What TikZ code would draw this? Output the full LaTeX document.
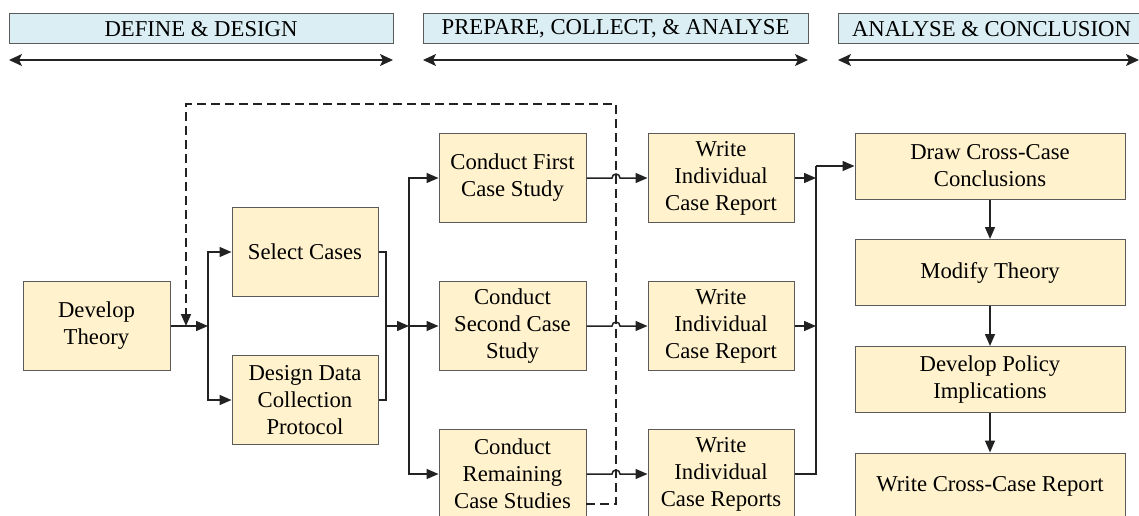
\documentclass[tikz,border=0pt]{standalone}
\usepackage{fontspec}
\setmainfont{Liberation Serif}
\newfontfamily\labelfont{Liberation Serif}[Ligatures=TeX]
\usetikzlibrary{arrows.meta}

\definecolor{boxfill}{HTML}{FFF2CC}
\definecolor{boxline}{HTML}{5A5A5A}
\definecolor{headfill}{HTML}{DAEEF3}
\definecolor{wire}{HTML}{222222}

\tikzset{
  stepbox/.style={draw=boxline, line width=1pt, fill=boxfill, align=center,
    inner sep=0pt, minimum width=147pt, minimum height=89pt,
    font=\labelfont\fontsize{22.7}{27}\selectfont},
  widebox/.style={stepbox, minimum width=270pt, minimum height=66pt},
  headbox/.style={draw=boxline, line width=1pt, fill=headfill, inner sep=0pt,
    minimum height=30pt, font=\labelfont\fontsize{22.7}{27}\selectfont},
  wire/.style={draw=wire, line width=1.5pt},
  arr/.style={wire, -{Triangle[length=12pt,width=10pt]}},
  span/.style={wire, {Stealth[length=13pt,width=12pt,inset=3pt]}-{Stealth[length=13pt,width=12pt,inset=3pt]}},
  loop/.style={wire, line width=1.6pt, dash pattern=on 9pt off 5pt, -{Triangle[length=12pt,width=10pt]}},
}

\begin{document}
\begin{tikzpicture}[x=1pt, y=-1pt]
\useasboundingbox (0,0) rectangle (1139,516);
\clip (0,0) rectangle (1139,516);

% phase headers
\node[headbox, minimum width=384pt] (h1) at (201,29) {DEFINE \& DESIGN};
\node[headbox, minimum width=385pt] (h2) at (615.5,29) {PREPARE, COLLECT, \& ANALYSE};
\node[headbox, minimum width=307pt] (h3) at (991.5,29) {ANALYSE \& CONCLUSION};
\coordinate (h1l) at (9,60);   \coordinate (h1r) at (393,60);
\coordinate (h2l) at (423,60); \coordinate (h2r) at (808,60);
\coordinate (h3l) at (838,60); \coordinate (h3r) at (1139,60);
\draw[span] (h1l) -- (h1r);
\draw[span] (h2l) -- (h2r);
\draw[span] (h3l) -- (h3r);

% steps
\node[stepbox] (dt) at (96.5,326) {Develop\\Theory};
\node[stepbox, minimum width=146pt] (sc) at (305,252) {Select Cases};
\node[stepbox, minimum width=146pt] (dd) at (305,400) {Design Data\\Collection\\Protocol};
\node[stepbox] (c1) at (512.5,178) {Conduct First\\Case Study};
\node[stepbox] (c2) at (512.5,326) {Conduct\\Second Case\\Study};
\node[stepbox] (c3) at (512.5,474) {Conduct\\Remaining\\Case Studies};
\node[stepbox, minimum width=146pt] (w1) at (721,178) {Write\\Individual\\Case Report};
\node[stepbox, minimum width=146pt] (w2) at (721,326) {Write\\Individual\\Case Report};
\node[stepbox, minimum width=146pt] (w3) at (721,474) {Write\\Individual\\Case Reports};
\node[widebox] (dc) at (990,166) {Draw Cross-Case\\Conclusions};
\node[widebox] (mt) at (990,272.5) {Modify Theory};
\node[widebox] (dp) at (990,379.5) {Develop Policy\\Implications};
\node[widebox] (wr) at (990,486) {Write Cross-Case Report};

% junction points
\coordinate (jA) at (208,326);
\coordinate (jB) at (386,326);
\coordinate (jC) at (409,326);
\coordinate (jD) at (816,166);
\coordinate (jE) at (816,178);
\coordinate (jF) at (816,326);
\coordinate (hop1) at (612,178);
\coordinate (hop2) at (612,326);
\coordinate (hop3) at (612,474);

% define & design
\draw[arr] (dt.east) -- (jA);
\draw[arr] (jA) |- (sc.west);
\draw[arr] (jA) |- (dd.west);

% cases into the case studies
\draw[wire] (sc.east) -| (jB);
\draw[wire] (dd.east) -| (jB);
\draw[arr] (jB) -- (jC);
\draw[arr] (jC) |- (c1.west);
\draw[arr] (jC) -- (c2.west);
\draw[arr] (jC) |- (c3.west);

% case studies to reports, hopping over the feedback line
\draw[arr] (c1.east) -- (hop1) arc[start angle=180, end angle=0, radius=4pt] -- (w1.west);
\draw[arr] (c2.east) -- (hop2) arc[start angle=180, end angle=0, radius=4pt] -- (w2.west);
\draw[arr] (c3.east) -- (hop3) arc[start angle=180, end angle=0, radius=4pt] -- (w3.west);

% reports into the cross-case analysis
\draw[arr] (w1.east) -- (jE);
\draw[arr] (w2.east) -- (jF);
\draw[wire] (w3.east) -| (jD);
\draw[arr] (jD) -- (dc.west);

% conclusion chain
\draw[arr] (dc) -- (mt);
\draw[arr] (mt) -- (dp);
\draw[arr] (dp) -- (wr);

% feedback from the case studies back to theory
\coordinate (fb0) at (586,504);
\coordinate (fb1) at (616,504);
\coordinate (fb2) at (616,104);
\coordinate (fb3) at (186,104);
\coordinate (fb4) at (186,326);
\draw[loop] (fb0) -- (fb1) -- (fb2) -- (fb3) -- (fb4);
\end{tikzpicture}
\end{document}
